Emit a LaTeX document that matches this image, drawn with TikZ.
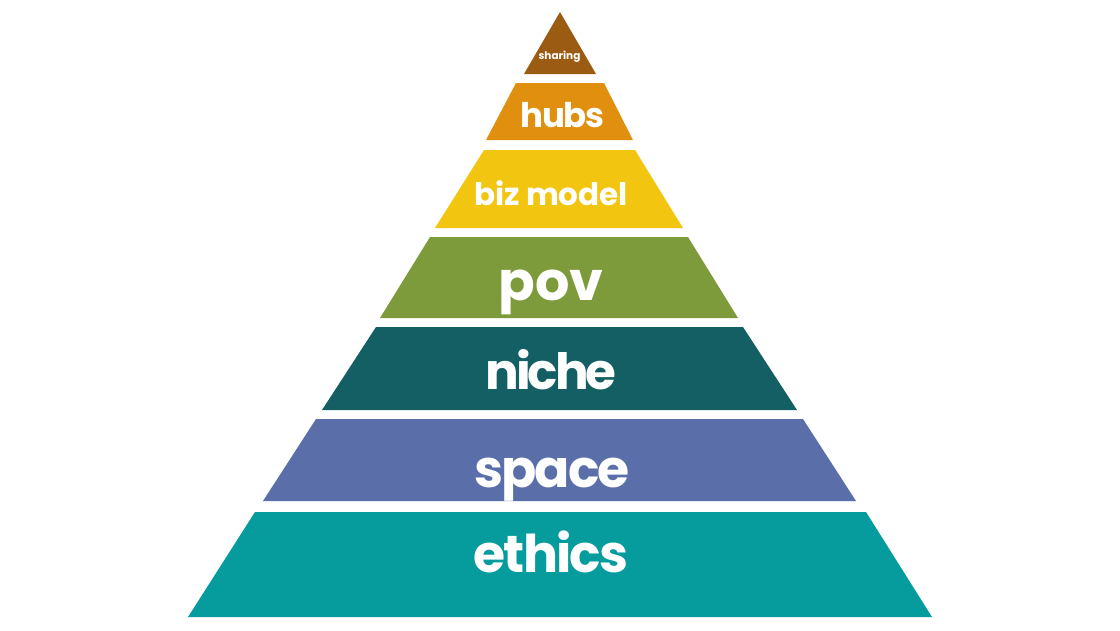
\documentclass[tikz,border=0pt]{standalone}
\usepackage{fontspec}
\setmainfont{Poppins}
\begin{document}
\begin{tikzpicture}[x=1pt,y=-1pt,
  lbl/.style={anchor=base,text=white,font=\bfseries,inner sep=0pt}]
\definecolor{cshare}{HTML}{9C5B12}
\definecolor{chubs}{HTML}{E0900E}
\definecolor{cbiz}{HTML}{F2C511}
\definecolor{cpov}{HTML}{7E9B3C}
\definecolor{cniche}{HTML}{145F64}
\definecolor{cspace}{HTML}{5A6FA9}
\definecolor{cethics}{HTML}{069B9C}
\useasboundingbox (0,0) rectangle (1120,630);
\fill[white] (0,0) rectangle (1120,630);
% layers
\fill[cshare]  (560,12) -- (596,74) -- (524,74) -- cycle;
\fill[chubs]   (516,83) -- (604,83) -- (633,140) -- (486,140) -- cycle;
\fill[cbiz]    (484,150) -- (635,150) -- (683,228) -- (435,228) -- cycle;
\fill[cpov]    (430,237) -- (688,237) -- (738,318) -- (380,318) -- cycle;
\fill[cniche]  (376,327) -- (743,327) -- (797,410) -- (322,410) -- cycle;
\fill[cspace]  (316,419) -- (803,419) -- (856,501) -- (263,501) -- cycle;
\fill[cethics] (255,512) -- (866,512) -- (932,617) -- (188,617) -- cycle;
% labels
\node[lbl,font=\bfseries\fontsize{10.5}{12}\selectfont] (tshare) at (559.5,59) {sharing};
\node[lbl,font=\bfseries\fontsize{34}{40}\selectfont\addfontfeatures{LetterSpace=-4.5}] (thubs) at (562.5,127) {hubs};
\node[lbl,font=\bfseries\fontsize{31}{36}\selectfont] (tbiz) at (551,205) {biz model};
\node[lbl,font=\bfseries\fontsize{54}{60}\selectfont] (tpov) at (551,300) {pov};
\node[lbl,font=\bfseries\fontsize{50}{60}\selectfont\addfontfeatures{LetterSpace=-6}] (tniche) at (551,389) {niche};
\node[lbl,font=\bfseries\fontsize{52}{60}\selectfont\addfontfeatures{LetterSpace=-3.5}] (tspace) at (552,487) {space};
\node[lbl,font=\bfseries\fontsize{52}{62}\selectfont\addfontfeatures{LetterSpace=-3.5}] (tethics) at (551,572) {ethics};
\end{tikzpicture}
\end{document}
